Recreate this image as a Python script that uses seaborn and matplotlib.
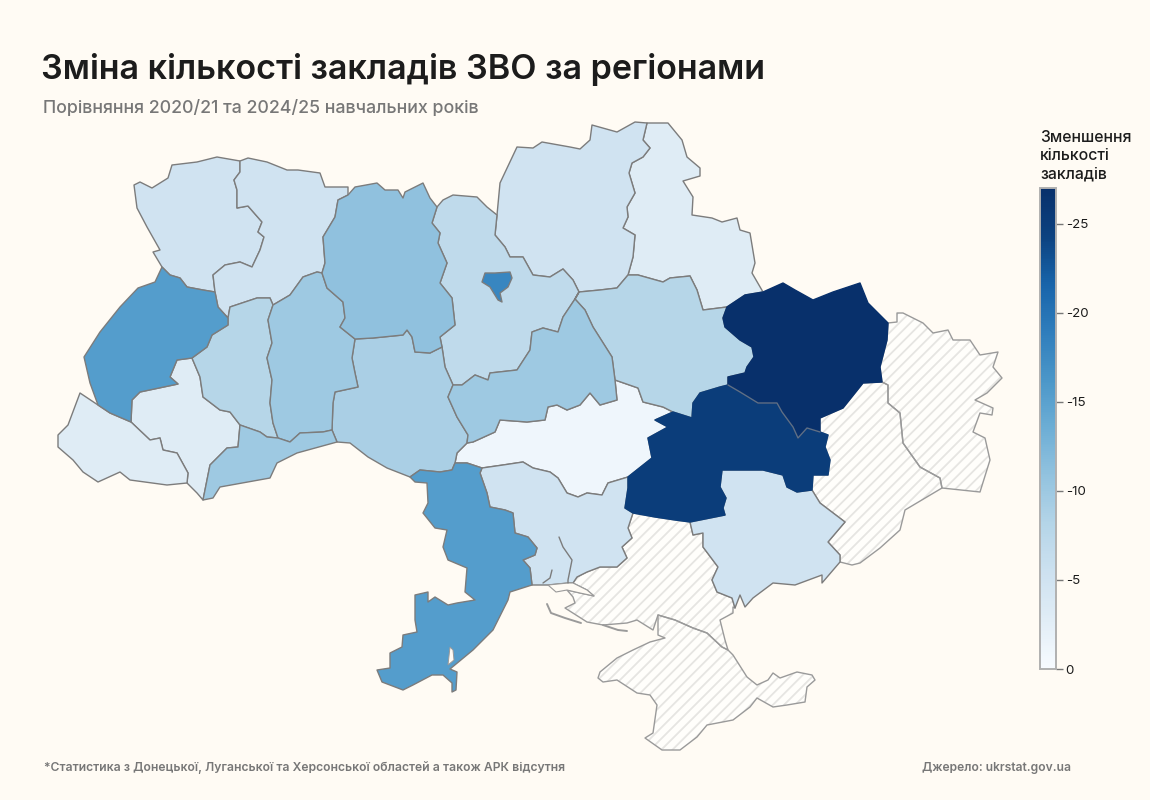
import numpy as np
import matplotlib
matplotlib.use("Agg")
import matplotlib.pyplot as plt
import seaborn as sns
from matplotlib.patches import Polygon
from matplotlib.cm import ScalarMappable
from matplotlib.colors import Normalize

BG = "#FFFBF4"
TITLE = "Зміна кількості закладів ЗВО за регіонами"
SUBTITLE = "Порівняння 2020/21 та 2024/25 навчальних років"
LEGEND_TITLE = ["Зменшення", "кількості", "закладів"]
FOOTNOTE = "*Статистика з Донецької, Луганської та Херсонської областей а також АРК відсутня"
SOURCE = "Джерело: ukrstat.gov.ua"
TICKS = [0, -5, -10, -15, -20, -25]
BLUES = ["#08306b", "#0c4280", "#1864aa", "#2f7ebc", "#4b97c9", "#6daed5",
         "#93c3df", "#b5d5e8", "#cde1f0", "#e1edf6", "#f7fbff"]

# Change in number of institutions, by region
VALUES = {
    "Volyn": -5, "Rivne": -5, "Zhytomyr": -11, "Kyiv": -7, "KyivCity": -18,
    "Chernihiv": -5, "Sumy": -3, "Lviv": -15.5, "Ternopil": -8, "Khmelnytskyi": -10,
    "Vinnytsia": -9, "Chernivtsi": -10, "IvanoFrankivsk": -3, "Zakarpattia": -3,
    "Cherkasy": -10, "Poltava": -8, "Kharkiv": -27, "Dnipro": -25, "Kirovohrad": -1,
    "Odesa": -15.5, "Mykolaiv": -5, "Zaporizhzhia": -5,
}
NO_DATA = ["Luhansk", "Donetsk", "Kherson", "Crimea"]
DARK_REGIONS = ["Kharkiv", "Dnipro"]

# Map geometry: shared borders in map units
VOL_TOP = [(134,185),(140,182),(152,188),(168,178),(172,165),(197,162),(217,157),(240,161)]
VOL_RIV = [(240,161),(240,172),(234,180),(237,190),(237,208),(248,206),(262,222),(258,232),(264,237),(260,250),(252,267),(240,262),(225,265),(213,275),(215,292)]
VOL_LVI = [(215,292),(203,290),(187,287),(180,278),(170,275),(162,267)]
VOL_W = [(162,267),(153,252),(160,250),(147,227),(137,208),(134,185)]
RIV_TOP = [(240,161),(248,158),(267,162),(287,170),(298,170),(320,173),(325,187),(348,187),(348,195)]
RIV_ZH = [(348,195),(338,200),(335,217),(323,237),(325,263),(322,273)]
RIV_KHM = [(322,273),(317,272),(303,277),(290,295),(273,305)]
RIV_TER = [(273,305),(270,298),(257,298),(230,307),(228,318)]
RIV_LVI = [(228,318),(218,307),(215,292)]
LVI_W = [(162,267),(155,282),(138,288),(120,307),(100,332),(84,357),(90,383),(98,405)]
LVI_ZAK = [(98,405),(110,413),(131,422)]
IF_LVI = [(131,422),(132,400),(140,392),(178,384),(170,377),(177,360),(192,358)]
LVI_TER = [(228,318),(228,325),(212,335),(207,347),(192,358)]
TER_KHM = [(273,305),(268,320),(272,343),(267,358),(272,380),(270,403),(273,423),(278,438)]
TER_CHN = [(240,425),(260,432),(267,437),(278,438)]
IF_TER = [(192,358),(200,377),(203,397),(220,410),(230,412),(240,425)]
KHM_ZH = [(322,273),(327,288),(343,302),(345,318),(340,327),(355,339)]
KHM_VIN = [(355,339),(352,358),(355,373),(358,387),(335,392),(333,403),(332,430)]
KHM_CHN = [(332,430),(323,432),(300,433),(290,442),(278,438)]
IF_CHN = [(240,425),(238,447),(227,448),(210,465),(203,500)]
CHN_S = [(203,500),(213,498),(220,487),(270,478),(277,463),(297,453),(337,442),(332,430)]
ZAK_S = [(98,405),(80,393),(68,425),(58,435),(58,447),(73,460),(83,472),(98,482),(120,472),(130,480),(167,485),(187,483)]
ZAK_IF = [(131,422),(150,440),(160,438),(163,450),(177,453),(188,473),(187,483)]
IF_TAIL = [(203,500),(197,493),(187,483)]
ZH_TOP = [(348,195),(355,187),(377,183),(385,190),(398,190),(403,198),(405,192),(423,183),(430,198),(437,207)]
ZH_KYI = [(437,207),(432,223),(440,233),(438,243),(447,263),(440,283),(452,298),(455,325),(440,337),(442,347)]
ZH_VIN = [(442,347),(430,353),(415,352),(412,337),(407,330),(403,335),(373,338),(355,339)]
VIN_KYI = [(442,347),(445,367),(453,385)]
VIN_CHK = [(453,385),(448,397),(457,417),(468,435),(467,443)]
VIN_KIR = [(467,443),(457,453),(455,463)]
VIN_ODE = [(455,463),(452,470),(440,472),(420,470),(410,477)]
VIN_S = [(410,477),(387,468),(368,457),(350,443),(337,442),(332,430)]
KYI_TOP = [(437,207),(443,200),(453,195),(477,197),(487,207),(497,215)]
KYI_CHE = [(497,215),(495,235),(505,247),(510,257),(523,257),(533,275),(550,277),(563,269),(573,280),(579,292)]
KYI_CHK = [(579,292),(575,299),(563,317),(558,332),(543,328),(532,332),(530,350),(517,370),(490,373),(488,380),(475,375),(462,385),(453,385)]
CHE_TOP = [(497,215),(500,183),(517,147),(533,148),(542,142),(570,147),(580,149),(590,140),(592,125),(617,132),(635,122),(647,123)]
CHE_SUM = [(647,123),(643,140),(650,148),(643,157),(632,163),(629,173),(635,193),(627,207),(628,217),(623,228),(635,235),(633,257),(628,275)]
CHE_POL = [(628,275),(617,288),(600,290),(579,292)]
SUM_TOP = [(647,123),(668,123),(682,140),(687,157),(700,168),(700,176),(683,181),(693,197),(692,215),(712,218),(722,222),(737,218),(740,230),(750,233),(755,263),(752,273),(763,292)]
SUM_KHA = [(763,292),(745,295),(727,307)]
SUM_POL = [(727,307),(703,310),(697,290),(690,276),(670,278),(663,282),(638,275),(628,275)]
POL_KHA = [(727,307),(723,318),(725,327),(740,340),(752,347),(754,357),(747,367),(745,373),(728,377),(728,385)]
POL_DNI = [(728,385),(720,387),(700,393),(693,403),(692,418),(673,412)]
POL_KIR = [(673,412),(663,407),(643,402),(638,388),(615,380)]
POL_CHK = [(615,380),(612,357),(593,327),(585,310),(575,299),(579,292)]
CHK_KIR = [(615,380),(617,400),(600,405),(590,393),(580,405),(567,410),(557,405),(548,407),(545,420),(527,422),(500,420),(495,432),(473,442),(467,443)]
KIR_ODE = [(455,463),(467,463),(482,468)]
KIR_MYK = [(482,468),(503,465),(523,462),(533,468),(550,472),(558,478),(567,493),(578,497),(587,493),(602,495),(608,483),(628,477)]
DNI_KIR = [(628,477),(652,458),(648,438),(668,427),(655,420),(673,412)]
DNI_KHA = [(728,385),(740,392),(758,403),(777,403),(782,412),(793,427),(798,438),(807,428),(820,432)]
DNI_DON = [(820,432),(828,435),(825,447),(830,460),(828,475),(813,475),(812,490)]
DNI_ZAP = [(812,490),(797,492),(787,487),(783,475),(763,470),(740,470),(722,470),(720,487),(726,498),(723,508),(725,515),(690,522)]
DNI_KHE = [(690,522),(675,520),(655,517),(633,513)]
DNI_MYK = [(633,513),(625,508),(628,488),(628,477)]
KHA_TOP = [(763,292),(783,283),(795,290),(813,300),(833,292),(860,283),(868,303),(888,323)]
KHA_LUH = [(888,323),(887,340),(880,367),(882,382)]
KHA_DON = [(882,382),(863,383),(843,408),(820,418),(820,432)]
LUH_TOP = [(888,323),(897,322),(897,313),(903,313),(923,323),(933,333),(948,330),(953,340),(970,340),(980,355),(998,352),(993,367),(1002,378),(987,393),(975,400),(993,408),(992,415),(980,413),(973,432),(985,438),(990,460),(980,492),(942,488)]
LUH_DON = [(942,488),(940,478),(920,467),(903,443),(900,413),(888,403),(888,385),(882,382)]
DON_COAST = [(840,562),(852,565),(860,563),(880,548),(900,530),(905,510),(942,488)]
DON_ZAP = [(812,490),(820,503),(845,522),(828,542),(840,555),(840,562)]
ZAP_COAST = [(840,562),(822,583),(822,575),(795,585),(773,583),(753,598),(745,607),(740,595),(735,608)]
ZAP_KHE = [(735,608),(732,598),(717,592),(712,580),(718,567),(703,547),(703,533),(693,535),(690,522)]
KHE_MYK = [(633,513),(628,528),(632,538),(622,547),(627,558),(617,567),(600,567),(587,572),(577,577),(573,583)]
KHE_COAST = [(573,583),(587,590),(594,596),(580,593),(567,590),(573,597),(575,603),(565,608),(587,622),(603,625),(627,623),(637,620),(653,630),(658,615)]
KHE_CRI = [(658,615),(675,620),(693,628),(707,633),(722,647),(728,650)]
KHE_SPIT = [(728,650),(725,640),(720,620),(733,613),(733,607),(735,608)]
MYK_COAST = [(573,583),(568,583),(548,585),(532,585)]
MYK_ODE = [(532,585),(530,568),(523,560),(535,555),(537,548),(528,537),(515,533),(513,513),(505,510),(490,507),(487,493),(480,473),(482,468)]
ODE_SW = [(410,477),(415,482),(427,483),(428,503),(423,513),(435,528),(447,530),(443,547),(448,560),(467,568),(465,592),(475,600),(457,603),(448,605),(435,597),(428,602),(428,592),(415,595),(415,620),(417,632),(403,635),(402,647),(390,653),(390,668),(377,670),(382,682),(403,690),(413,685),(432,675),(443,675),(452,683),(452,692),(456,690),(457,672),(450,669),(473,650),(493,630),(508,600),(510,592),(532,585)]
KYIV_CITY = [(482,282),(485,273),(495,273),(510,272),(512,278),(508,287),(500,293),(502,302),(498,300),(490,287)]
CRIMEA_S = [(658,615),(658,635),(665,638),(650,642),(633,650),(617,658),(600,672),(598,678),(603,682),(617,680),(637,693),(650,695),(657,705),(653,733),(645,738),(662,750),(680,750),(697,737),(707,725),(733,720),(750,707),(757,698),(773,707),(787,705),(805,702),(807,687),(815,680),(812,675),(797,672),(780,678),(773,673),(768,680),(757,685),(747,677),(733,655),(728,650)]
LAGOON = [(450,647),(448,665),(454,660),(453,650)]
KHERSON_BAY = [(548,585),(568,583),(573,583),(587,590),(594,596),(580,593),(567,590),(556,592)]
RIVER_BUG = [(559,537),(563,547),(572,560),(568,580),(568,583)]
RIVER_2 = [(552,570),(550,578),(543,583)]
SPIT_A = [(547,604),(551,613),(565,618),(581,623)]
SPIT_B = [(603,625),(618,630),(627,631)]
R = lambda arc: arc[::-1]

SHAPES = {
    "Volyn": VOL_TOP + VOL_RIV + VOL_LVI + VOL_W,
    "Rivne": RIV_TOP + RIV_ZH + RIV_KHM + RIV_TER + RIV_LVI + R(VOL_RIV),
    "Lviv": R(VOL_LVI) + R(RIV_LVI) + LVI_TER + R(IF_LVI) + R(LVI_ZAK) + R(LVI_W),
    "Ternopil": R(RIV_TER) + TER_KHM + R(TER_CHN) + R(IF_TER) + R(LVI_TER),
    "Khmelnytskyi": R(RIV_KHM) + KHM_ZH + KHM_VIN + KHM_CHN + R(TER_KHM),
    "Chernivtsi": TER_CHN + R(KHM_CHN) + R(CHN_S) + R(IF_CHN),
    "IvanoFrankivsk": IF_LVI + IF_TER + IF_CHN + IF_TAIL + R(ZAK_IF),
    "Zakarpattia": LVI_ZAK + ZAK_IF + R(ZAK_S),
    "Zhytomyr": ZH_TOP + ZH_KYI + ZH_VIN + R(KHM_ZH) + R(RIV_ZH),
    "Vinnytsia": R(ZH_VIN) + VIN_KYI + VIN_CHK + VIN_KIR + VIN_ODE + VIN_S + R(KHM_VIN),
    "Kyiv": KYI_TOP + KYI_CHE + KYI_CHK + R(VIN_KYI) + R(ZH_KYI),
    "Chernihiv": CHE_TOP + CHE_SUM + CHE_POL + R(KYI_CHE),
    "Sumy": SUM_TOP + SUM_KHA + SUM_POL + R(CHE_SUM),
    "Cherkasy": KYI_CHK + VIN_CHK + R(CHK_KIR) + POL_CHK,
    "Poltava": POL_KHA + POL_DNI + POL_KIR + POL_CHK + R(CHE_POL) + R(SUM_POL),
    "Kirovohrad": VIN_KIR + KIR_ODE + KIR_MYK + DNI_KIR + POL_KIR + CHK_KIR,
    "Odesa": R(KIR_ODE) + VIN_ODE + ODE_SW + MYK_ODE,
    "Mykolaiv": KIR_MYK + R(DNI_MYK) + KHE_MYK + MYK_COAST + MYK_ODE,
    "Zaporizhzhia": DNI_ZAP + R(ZAP_KHE) + R(ZAP_COAST) + R(DON_ZAP),
    "Dnipro": R(POL_DNI) + DNI_KHA + DNI_DON + DNI_ZAP + DNI_KHE + DNI_MYK + DNI_KIR,
    "Kharkiv": KHA_TOP + KHA_LUH + KHA_DON + R(DNI_KHA) + R(POL_KHA) + R(SUM_KHA),
    "KyivCity": KYIV_CITY,
    "Luhansk": LUH_TOP + LUH_DON + R(KHA_LUH),
    "Donetsk": KHA_DON + DNI_DON + DON_ZAP + DON_COAST + LUH_DON,
    "Kherson": KHE_MYK + KHE_COAST + KHE_CRI + KHE_SPIT + ZAP_KHE + DNI_KHE,
    "Crimea": CRIMEA_S + R(KHE_CRI),
}

sns.set_theme(style="white")
FONT = ["Inter", "DejaVu Sans"]
plt.rcParams["font.family"] = FONT
plt.rcParams["hatch.linewidth"] = 1.3

fig = plt.figure(figsize=(11.5, 8), dpi=100, facecolor=BG)
ax = fig.add_axes([0, 0, 1, 1], facecolor=BG)
ax.set_xlim(0, 1150)
ax.set_ylim(800, 0)
ax.axis("off")

cmap_r = sns.blend_palette(BLUES, as_cmap=True)
norm = Normalize(vmin=-27, vmax=0)
EDGE = "#7C7C7C"

for name in NO_DATA:
    ax.add_patch(Polygon(SHAPES[name], closed=True, facecolor="#FFFEFB", edgecolor="#E6E5E2", hatch="///", lw=0, zorder=1))
for name in NO_DATA:
    ax.add_patch(Polygon(SHAPES[name], closed=True, fill=False, edgecolor="#9A9A9A", lw=1.0, joinstyle="round", zorder=2))
order = sorted(VALUES, key=lambda k: (k == "KyivCity", -VALUES[k]))
for name in order:
    colour = cmap_r(norm(VALUES[name]))
    ax.add_patch(Polygon(SHAPES[name], closed=True, facecolor=colour,
                         edgecolor=colour if name in DARK_REGIONS else EDGE, lw=1.0, joinstyle="round", zorder=3))
ax.plot(*zip(*DNI_KHA), color="#5F6F85", lw=1.0, zorder=4)
ax.add_patch(Polygon(LAGOON, closed=True, facecolor=BG, edgecolor="#9A9A9A", lw=0.7, zorder=4))
ax.add_patch(Polygon(KHERSON_BAY, closed=True, facecolor=BG, edgecolor="#9A9A9A", lw=0.8, zorder=4))
for line in (RIVER_BUG, RIVER_2):
    ax.plot(*zip(*line), color=EDGE, lw=1.0, zorder=4)
for line in (SPIT_A, SPIT_B):
    ax.plot(*zip(*line), color="#9A9A9A", lw=1.4, zorder=4)

ax.text(41, 69, TITLE, fontsize=24.55, fontweight="semibold", color="#1C1C1C", va="center", ha="left")
ax.text(43, 108, SUBTITLE, fontsize=12.8, fontweight="medium", color="#777777", va="center", ha="left")
for i, line in enumerate(LEGEND_TITLE):
    ax.text(1040, 137 + 18.5 * i, line, fontsize=11.4, fontweight="medium", color="#1C1C1C", va="center", ha="left")
ax.text(44, 768, FOOTNOTE, fontsize=8.75, fontweight="semibold", color="#777777", va="center", ha="left")
ax.text(922, 768, SOURCE, fontsize=8.7, fontweight="semibold", color="#777777", va="center", ha="left")

cax = fig.add_axes([1040 / 1150, 1 - 669 / 800, 16 / 1150, (669 - 188) / 800])
cb = fig.colorbar(ScalarMappable(norm=norm, cmap=cmap_r), cax=cax)
cax.invert_yaxis()
cb.set_ticks(TICKS)
cb.set_ticklabels([str(t) for t in TICKS])
cax.tick_params(axis="y", length=5, width=1.0, color="#777777", pad=2, labelsize=9.6, labelcolor="#1C1C1C", right=True, left=False)
cb.outline.set_edgecolor("#B0B0B0")
cb.outline.set_linewidth(1.4)

fig.savefig("out.png", dpi=100, facecolor=BG)
